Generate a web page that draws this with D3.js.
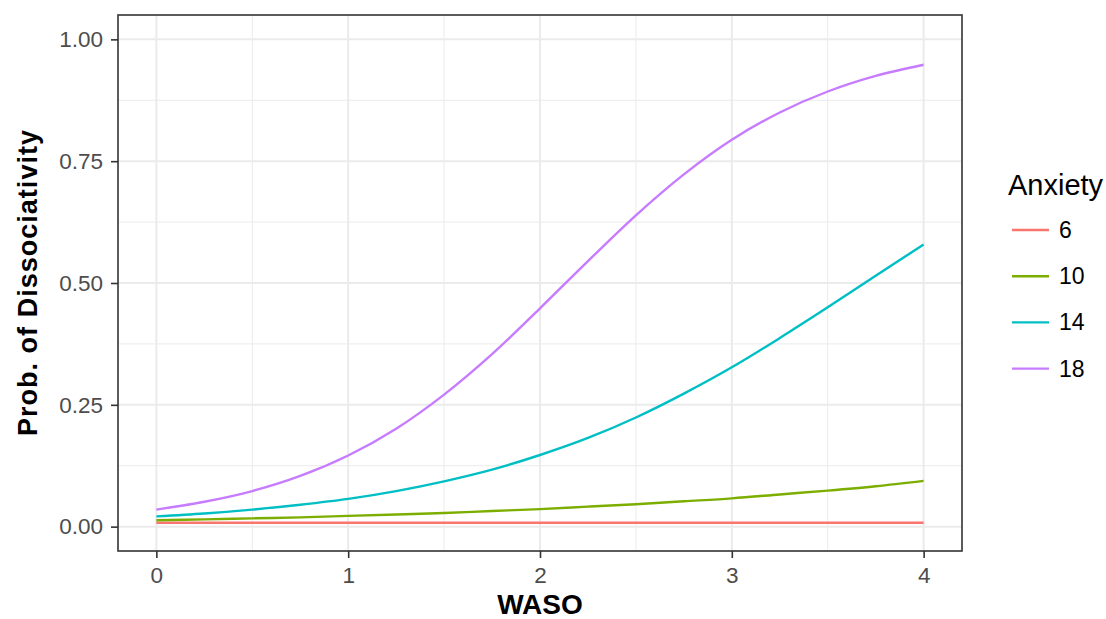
<!DOCTYPE html>
<html>
<head>
<meta charset="utf-8">
<script src="https://cdn.jsdelivr.net/npm/d3@7"></script>
<style>
  body { margin: 0; background: #fff; }
  text { font-family: "Liberation Sans", Arial, Helvetica, sans-serif; }
</style>
</head>
<body>
<div id="chart"></div>
<script>
// values
const waso = [0, 0.25, 0.5, 0.75, 1, 1.25, 1.5, 1.75, 2, 2.25, 2.5, 2.75, 3, 3.25, 3.5, 3.75, 4];
const anxietyLevels = ["6", "10", "14", "18"];
const prob6  = [0.008, 0.008, 0.008, 0.008, 0.008, 0.008, 0.008, 0.008, 0.008, 0.008, 0.008, 0.008, 0.008, 0.008, 0.008, 0.008, 0.008];
const prob10 = [0.013, 0.015, 0.017, 0.019, 0.022, 0.025, 0.028, 0.032, 0.036, 0.041, 0.046, 0.052, 0.058, 0.066, 0.074, 0.083, 0.094];
const prob14 = [0.021, 0.027, 0.035, 0.045, 0.057, 0.073, 0.093, 0.117, 0.147, 0.182, 0.224, 0.273, 0.327, 0.387, 0.450, 0.515, 0.579];
const prob18 = [0.035, 0.051, 0.073, 0.104, 0.146, 0.201, 0.271, 0.354, 0.448, 0.545, 0.639, 0.723, 0.794, 0.850, 0.893, 0.925, 0.948];
const colors = ["#F8766D", "#7CAE00", "#00BFC4", "#C77CFF"];
const xTicks = [0, 1, 2, 3, 4];
const yTicks = [0, 0.25, 0.5, 0.75, 1];

const series = [prob6, prob10, prob14, prob18].map((vals, i) => ({
    name: anxietyLevels[i],
    color: colors[i],
    values: vals.map((v, j) => ({x: waso[j], y: v}))
}));

const W = 1106, H = 619;
const margin = {top: 15, right: 144, bottom: 68, left: 118};
const width = W - margin.left - margin.right;
const height = H - margin.top - margin.bottom;

const svg = d3.select("#chart").append("svg")
    .attr("width", W)
    .attr("height", H);

const g = svg.append("g")
    .attr("transform", "translate(" + margin.left + "," + margin.top + ")");

// scales (ggplot style 5% expansion)
const x = d3.scaleLinear().domain([-0.2, 4.2]).range([0, width]);
const y = d3.scaleLinear().domain([-0.05, 1.05]).range([height, 0]);

// minor grid
const xMinor = d3.range(0.5, 4, 1);
const yMinor = d3.range(0.125, 1, 0.25);
g.append("g").selectAll("line").data(xMinor).enter().append("line")
    .attr("x1", d => x(d)).attr("x2", d => x(d))
    .attr("y1", 0).attr("y2", height)
    .attr("stroke", "#EBEBEB").attr("stroke-width", 1);
g.append("g").selectAll("line").data(yMinor).enter().append("line")
    .attr("x1", 0).attr("x2", width)
    .attr("y1", d => y(d)).attr("y2", d => y(d))
    .attr("stroke", "#EBEBEB").attr("stroke-width", 1);

// major grid
g.append("g").selectAll("line").data(xTicks).enter().append("line")
    .attr("x1", d => x(d)).attr("x2", d => x(d))
    .attr("y1", 0).attr("y2", height)
    .attr("stroke", "#EBEBEB").attr("stroke-width", 2);
g.append("g").selectAll("line").data(yTicks).enter().append("line")
    .attr("x1", 0).attr("x2", width)
    .attr("y1", d => y(d)).attr("y2", d => y(d))
    .attr("stroke", "#EBEBEB").attr("stroke-width", 2);

// lines
const line = d3.line()
    .x(d => x(d.x))
    .y(d => y(d.y))
    .curve(d3.curveCatmullRom);

g.append("g").selectAll("path").data(series).enter().append("path")
    .attr("d", d => line(d.values))
    .attr("fill", "none")
    .attr("stroke", d => d.color)
    .attr("stroke-width", 2.4);

// panel border
g.append("rect")
    .attr("width", width).attr("height", height)
    .attr("fill", "none")
    .attr("stroke", "#333333").attr("stroke-width", 1.6);

// axes
const xAxis = g.append("g")
    .attr("transform", "translate(0," + height + ")")
    .call(d3.axisBottom(x).tickValues(xTicks).tickFormat(d3.format("d")).tickSize(7).tickPadding(9));
const yAxis = g.append("g")
    .call(d3.axisLeft(y).tickValues(yTicks).tickFormat(d3.format(".2f")).tickSize(7).tickPadding(8));

[xAxis, yAxis].forEach(a => {
    a.select(".domain").remove();
    a.selectAll(".tick line").attr("stroke", "#333333").attr("stroke-width", 1.6);
    a.selectAll(".tick text")
        .attr("fill", "#4D4D4D")
        .style("font-size", "22.5px")
        .style("font-family", "'Liberation Sans', Arial, sans-serif");
});

// axis titles
svg.append("text")
    .attr("x", margin.left + width / 2)
    .attr("y", 614)
    .attr("text-anchor", "middle")
    .style("font-size", "28px")
    .style("font-weight", "bold")
    .text("WASO");

svg.append("text")
    .attr("transform", "translate(37," + (margin.top + height / 2) + ") rotate(-90)")
    .attr("text-anchor", "middle")
    .attr("textLength", 306)
    .style("font-size", "27px")
    .style("font-weight", "bold")
    .text("Prob. of Dissociativity");

// legend
const legend = svg.append("g").attr("transform", "translate(1008,0)");
legend.append("text")
    .attr("x", 0).attr("y", 195)
    .style("font-size", "29px")
    .text("Anxiety");

const keys = legend.selectAll("g.key").data(series).enter().append("g")
    .attr("class", "key")
    .attr("transform", (d, i) => "translate(0," + (230 + i * 46.2) + ")");
keys.append("line")
    .attr("x1", 4).attr("x2", 41)
    .attr("stroke", d => d.color)
    .attr("stroke-width", 2.4);
keys.append("text")
    .attr("x", 51).attr("y", 0)
    .attr("dy", "0.35em")
    .style("font-size", "23px")
    .text(d => d.name);
</script>
</body>
</html>
